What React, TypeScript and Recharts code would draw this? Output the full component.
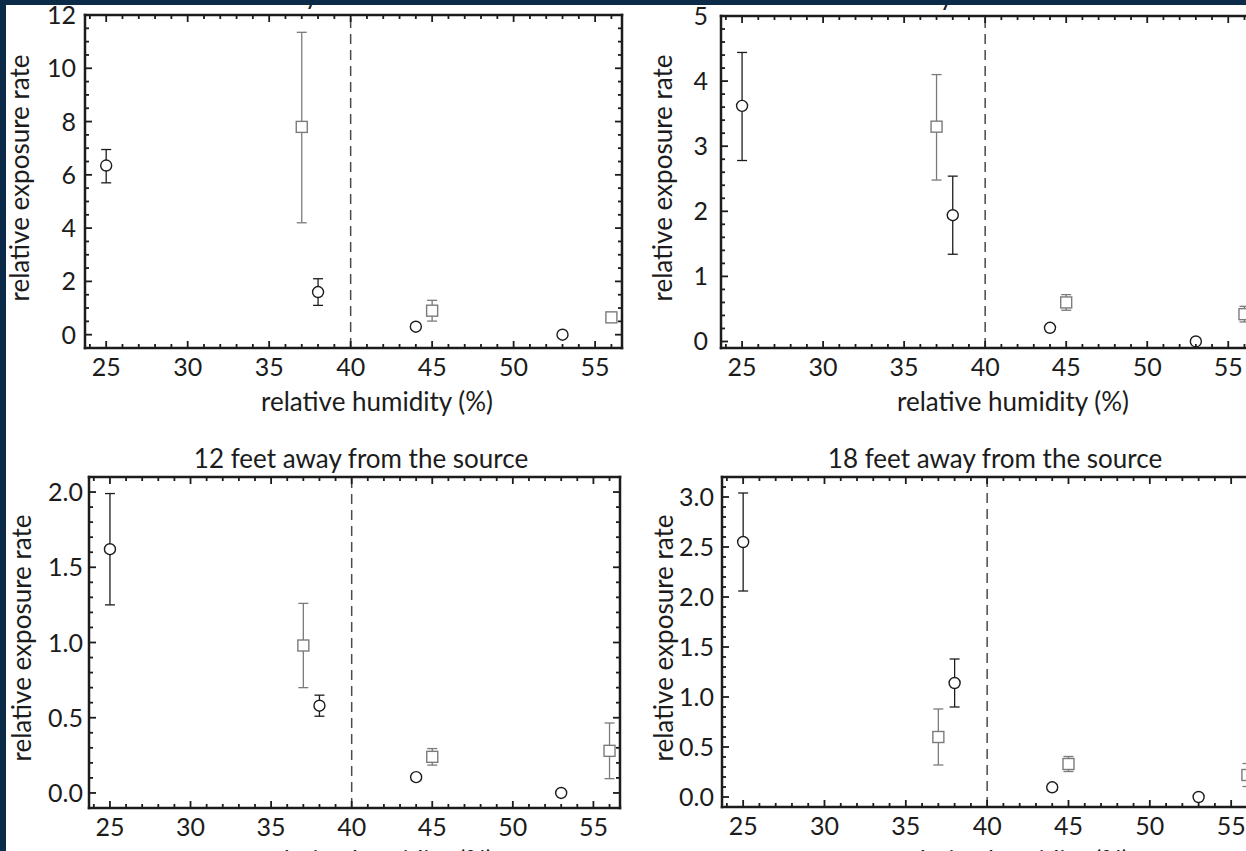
import { ScatterChart, Scatter, XAxis, YAxis, ErrorBar, ReferenceLine } from 'recharts';

const FONT = 'Lato, "Open Sans", sans-serif';
const INK = '#1c1c1c';
const GREY = '#7b7b7b';
const NAVY = '#0b2b49';

// relative humidity (%) of each run
const circleHumidity = [25, 38, 44, 53];
const squareHumidity = [37, 45, 56];

// exposure rate + [low, high] error, one block per distance
const circleRateA = [6.35, 1.6, 0.3, 0];
const circleErrA: [number, number][] = [[0.65, 0.6], [0.5, 0.5], [0.1, 0.1], [0, 0]];
const squareRateA = [7.8, 0.9, 0.65];
const squareErrA: [number, number][] = [[3.6, 3.55], [0.39, 0.39], [0.12, 0.12]];

const circleRateB = [3.62, 1.94, 0.21, 0];
const circleErrB: [number, number][] = [[0.84, 0.82], [0.6, 0.6], [0.05, 0.05], [0, 0]];
const squareRateB = [3.3, 0.6, 0.42];
const squareErrB: [number, number][] = [[0.82, 0.8], [0.12, 0.12], [0.12, 0.12]];

const circleRateC = [1.62, 0.58, 0.105, 0];
const circleErrC: [number, number][] = [[0.37, 0.37], [0.07, 0.07], [0.02, 0.02], [0, 0]];
const squareRateC = [0.98, 0.24, 0.28];
const squareErrC: [number, number][] = [[0.28, 0.28], [0.055, 0.055], [0.185, 0.185]];

const circleRateD = [2.55, 1.14, 0.097, 0];
const circleErrD: [number, number][] = [[0.49, 0.49], [0.24, 0.24], [0.03, 0.03], [0, 0]];
const squareRateD = [0.6, 0.33, 0.22];
const squareErrD: [number, number][] = [[0.28, 0.28], [0.075, 0.075], [0.115, 0.115]];

const xMajor = [25, 30, 35, 40, 45, 50, 55];
const yMajorA = [0, 2, 4, 6, 8, 10, 12];
const yMajorB = [0, 1, 2, 3, 4, 5];
const yMajorC = [0, 0.5, 1, 1.5, 2];
const yMajorD = [0, 0.5, 1, 1.5, 2, 2.5, 3];

const X_DOMAIN: [number, number] = [23.7, 56.65];
const THRESHOLD = 40;

function range(start: number, stop: number, step: number) {
  const out: number[] = [];
  const n = Math.round((stop - start) / step);
  for (let i = 0; i <= n; i++) out.push(+(start + i * step).toFixed(3));
  return out;
}

const xMinor = range(24, 56, 1);

type Side = 'bottom' | 'top' | 'left' | 'right';

// inward-pointing ticks; labels only on the bottom/left majors
function tickRenderer(side: Side, majors: number[], gap: number, digits: number) {
  return (props: any) => {
    const { x, y, payload } = props;
    const v = payload.value as number;
    const major = majors.some((m) => Math.abs(m - v) < 1e-6);
    const len = major ? 7 : 4;
    const line =
      side === 'bottom' ? { x1: x, y1: y, x2: x, y2: y - len }
      : side === 'top' ? { x1: x, y1: y, x2: x, y2: y + len }
      : side === 'left' ? { x1: x, y1: y, x2: x + len, y2: y }
      : { x1: x, y1: y, x2: x - len, y2: y };
    return (
      <g>
        <line {...line} stroke={INK} strokeWidth={1.8} />
        {major && side === 'bottom' && (
          <text x={x} y={y + 19} dy="0.36em" textAnchor="middle" fontFamily={FONT} fontSize={25} fill={INK}>
            {v}
          </text>
        )}
        {major && side === 'left' && (
          <text x={x - gap} y={y} dy="0.36em" textAnchor="end" fontFamily={FONT} fontSize={25} fill={INK}>
            {v.toFixed(digits)}
          </text>
        )}
      </g>
    );
  };
}

const CircleMark = (p: any) => (
  <circle cx={p.cx} cy={p.cy} r={5.5} fill="#fff" stroke={INK} strokeWidth={1.4} />
);
const SquareMark = (p: any) => (
  <rect x={p.cx - 5.5} y={p.cy - 5.5} width={11} height={11} fill="#fff" stroke={GREY} strokeWidth={1.4} />
);

interface PanelSpec {
  title: string;
  left: number;
  top: number;
  width: number;
  height: number;
  // plot box edges inside the chart
  box: { top: number; right: number; bottom: number; left: number };
  yDomain: [number, number];
  yMajor: number[];
  yMinor: number[];
  yDigits: number;
  yGap: number;
  circleRate: number[];
  circleErr: [number, number][];
  squareRate: number[];
  squareErr: [number, number][];
  titleAt: [number, number];
  xLabelAt: [number, number];
  yLabelAt: [number, number];
}

const panels: PanelSpec[] = [
  {
    title: '3 feet away from the source',
    left: 0, top: 0, width: 640, height: 420,
    box: { top: 15, right: 18, bottom: 72, left: 85 },
    yDomain: [-0.5, 12], yMajor: yMajorA, yMinor: range(0, 12, 0.5), yDigits: 0, yGap: 9,
    circleRate: circleRateA, circleErr: circleErrA, squareRate: squareRateA, squareErr: squareErrA,
    titleAt: [345, -6], xLabelAt: [377, 401], yLabelAt: [19, 178],
  },
  {
    title: '6 feet away from the source',
    left: 640, top: 0, width: 640, height: 420,
    box: { top: 16, right: 25, bottom: 72, left: 81 },
    yDomain: [-0.1, 5], yMajor: yMajorB, yMinor: range(0, 5, 0.2), yDigits: 0, yGap: 13,
    circleRate: circleRateB, circleErr: circleErrB, squareRate: squareRateB, squareErr: squareErrB,
    titleAt: [980, -5], xLabelAt: [1013, 401], yLabelAt: [662, 178],
  },
  {
    title: '12 feet away from the source',
    left: 0, top: 420, width: 640, height: 431,
    box: { top: 57, right: 20, bottom: 43, left: 89 },
    yDomain: [-0.1, 2.1], yMajor: yMajorC, yMinor: range(0, 2, 0.1), yDigits: 1, yGap: 6,
    circleRate: circleRateC, circleErr: circleErrC, squareRate: squareRateC, squareErr: squareErrC,
    titleAt: [361, 458], xLabelAt: [377, 860], yLabelAt: [21, 638],
  },
  {
    title: '18 feet away from the source',
    left: 640, top: 420, width: 640, height: 431,
    box: { top: 57, right: 22, bottom: 44, left: 82 },
    yDomain: [-0.1, 3.2], yMajor: yMajorD, yMinor: range(0, 3.2, 0.1), yDigits: 1, yGap: 8,
    circleRate: circleRateD, circleErr: circleErrD, squareRate: squareRateD, squareErr: squareErrD,
    titleAt: [995, 458], xLabelAt: [1013, 860], yLabelAt: [663, 638],
  },
];

const frameLine = { stroke: INK, strokeWidth: 2.5, strokeLinecap: 'square' as const };
// every axis gets a 1px band so it is rendered; margins shrink by that much
const AXIS_BAND = 1;

function Panel({ spec }: { spec: PanelSpec }) {
  const circles = circleHumidity.map((x, i) => ({ x, y: spec.circleRate[i], err: spec.circleErr[i] }));
  const squares = squareHumidity.map((x, i) => ({ x, y: spec.squareRate[i], err: spec.squareErr[i] }));
  const yTicks = spec.yMinor;
  const margin = {
    top: spec.box.top - AXIS_BAND,
    right: spec.box.right - AXIS_BAND,
    bottom: spec.box.bottom - AXIS_BAND,
    left: spec.box.left - AXIS_BAND,
  };

  return (
    <div style={{ position: 'absolute', left: spec.left, top: spec.top }}>
      <ScatterChart width={spec.width} height={spec.height} margin={margin}>
        <XAxis
          xAxisId="b" dataKey="x" type="number" orientation="bottom" height={AXIS_BAND}
          domain={X_DOMAIN} allowDataOverflow ticks={xMinor} interval={0}
          tickSize={0} tickMargin={0} tickLine={false} axisLine={frameLine}
          tick={tickRenderer('bottom', xMajor, 0, 0)}
        />
        <XAxis
          xAxisId="t" dataKey="x" type="number" orientation="top" height={AXIS_BAND}
          domain={X_DOMAIN} allowDataOverflow ticks={xMinor} interval={0}
          tickSize={0} tickMargin={0} tickLine={false} axisLine={frameLine}
          tick={tickRenderer('top', xMajor, 0, 0)}
        />
        <YAxis
          yAxisId="l" dataKey="y" type="number" orientation="left" width={AXIS_BAND}
          domain={spec.yDomain} allowDataOverflow ticks={yTicks} interval={0}
          tickSize={0} tickMargin={0} tickLine={false} axisLine={frameLine}
          tick={tickRenderer('left', spec.yMajor, spec.yGap, spec.yDigits)}
        />
        <YAxis
          yAxisId="r" dataKey="y" type="number" orientation="right" width={AXIS_BAND}
          domain={spec.yDomain} allowDataOverflow ticks={yTicks} interval={0}
          tickSize={0} tickMargin={0} tickLine={false} axisLine={frameLine}
          tick={tickRenderer('right', spec.yMajor, 0, 0)}
        />
        <ReferenceLine
          x={THRESHOLD} xAxisId="b" yAxisId="l"
          stroke="#4a4a4a" strokeWidth={1.5} strokeDasharray="10 6"
        />
        <Scatter
          data={squares} xAxisId="b" yAxisId="l" shape={SquareMark}
          isAnimationActive={false}
        >
          <ErrorBar dataKey="err" direction="y" width={5} stroke={GREY} strokeWidth={1.3} isAnimationActive={false} />
        </Scatter>
        <Scatter
          data={circles} xAxisId="b" yAxisId="l" shape={CircleMark}
          isAnimationActive={false}
        >
          <ErrorBar dataKey="err" direction="y" width={5} stroke={INK} strokeWidth={1.3} isAnimationActive={false} />
        </Scatter>
      </ScatterChart>
    </div>
  );
}

const textBase = {
  position: 'absolute' as const,
  fontFamily: FONT,
  fontSize: 26,
  lineHeight: 1,
  whiteSpace: 'nowrap' as const,
  color: INK,
};

export default function App() {
  return (
    <div
      style={{
        position: 'fixed', left: 0, top: 0, width: 1246, height: 851,
        overflow: 'hidden', background: '#fff',
      }}
    >
      {panels.map((p) => (
        <Panel key={p.title} spec={p} />
      ))}
      {panels.map((p) => (
        <div key={p.title + '-labels'}>
          <div style={{ ...textBase, left: p.titleAt[0], top: p.titleAt[1], transform: 'translate(-50%, -50%)' }}>
            {p.title}
          </div>
          <div style={{ ...textBase, left: p.xLabelAt[0], top: p.xLabelAt[1], transform: 'translate(-50%, -50%)' }}>
            relative humidity (%)
          </div>
          <div
            style={{
              ...textBase, left: p.yLabelAt[0], top: p.yLabelAt[1],
              transform: 'translate(-50%, -50%) rotate(-90deg)',
            }}
          >
            relative exposure rate
          </div>
        </div>
      ))}
      <div style={{ position: 'absolute', left: 0, top: 0, width: 1246, height: 5, background: NAVY }} />
      <div style={{ position: 'absolute', left: 0, top: 0, width: 6, height: 851, background: NAVY }} />
    </div>
  );
}
